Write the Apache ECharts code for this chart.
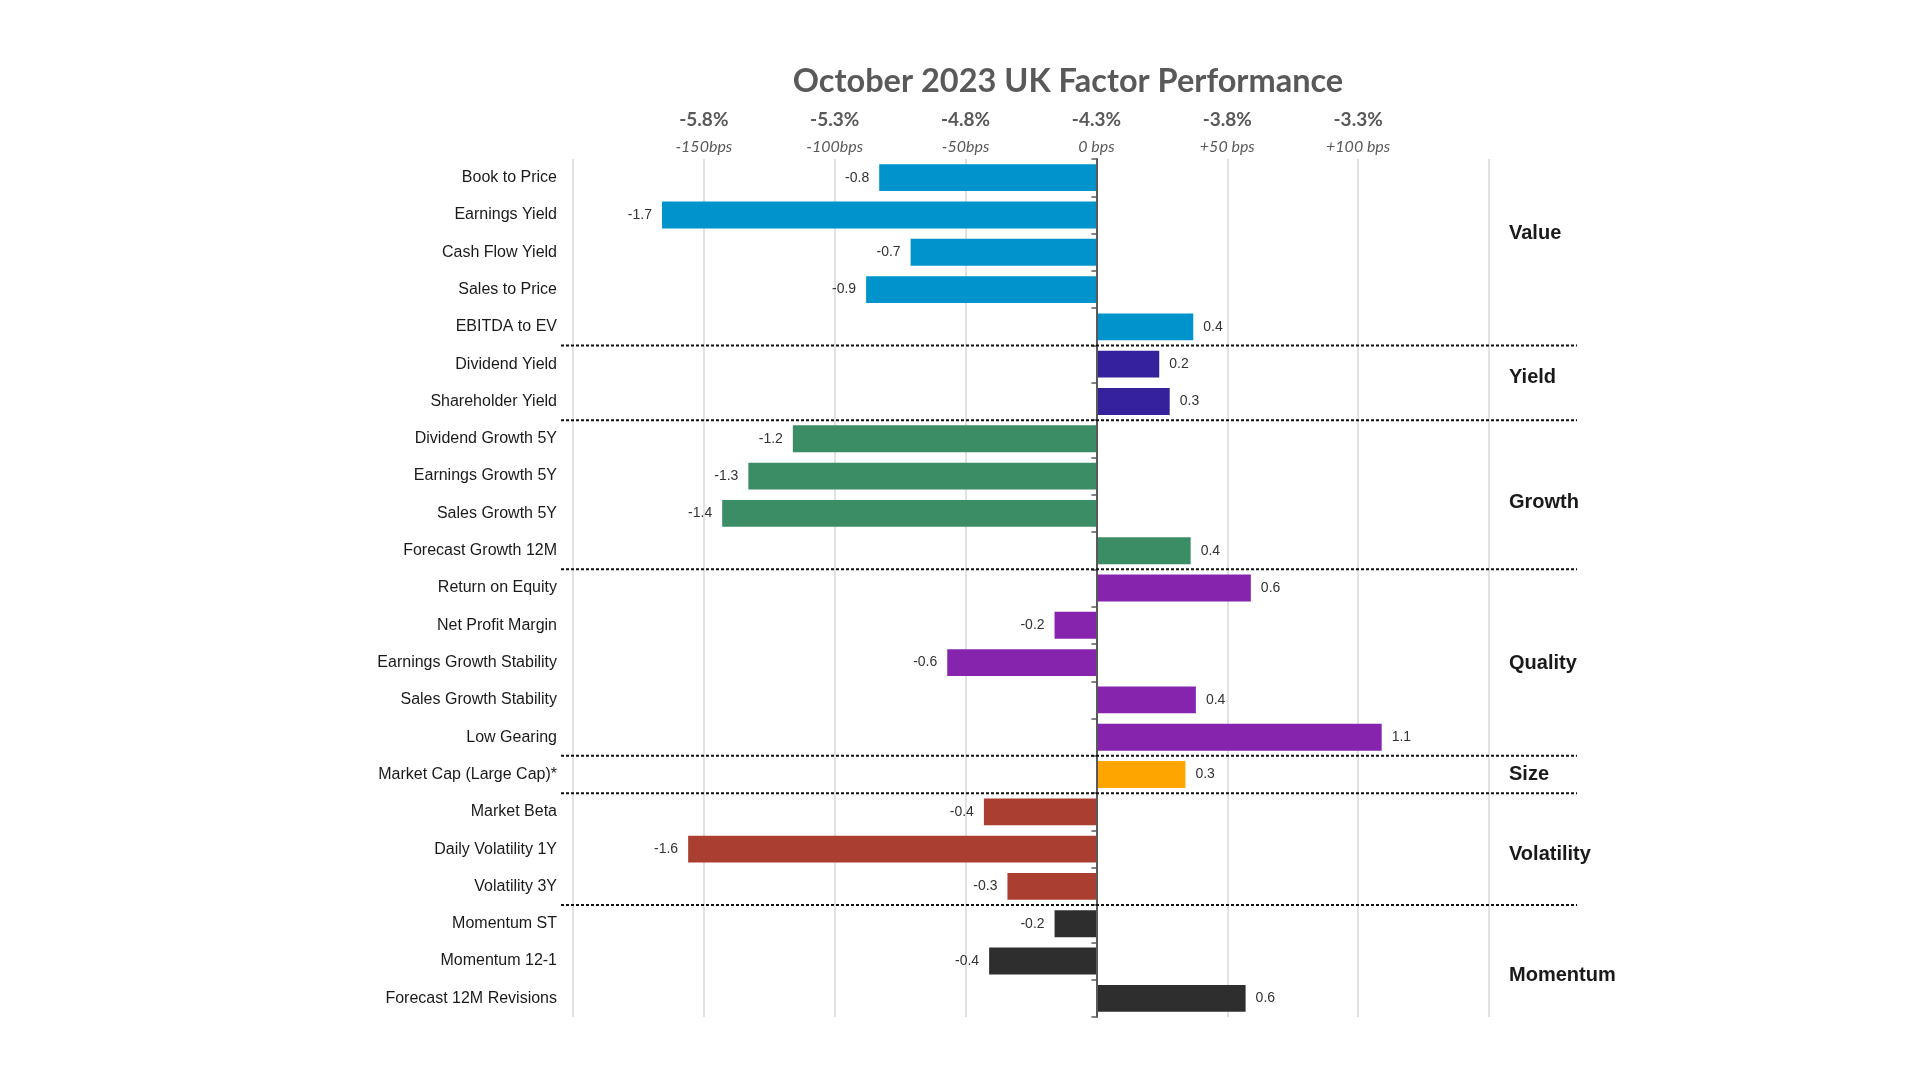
<!DOCTYPE html>
<html><head><meta charset="utf-8">
<script src="https://cdn.jsdelivr.net/npm/echarts@6/dist/echarts.min.js"></script>
<style>html,body{margin:0;padding:0;background:#fff}#c{width:1920px;height:1080px}</style>
</head><body><div id="c"></div>
<script>
// ---- data ----
const categories = ['Book to Price','Earnings Yield','Cash Flow Yield','Sales to Price','EBITDA to EV',
  'Dividend Yield','Shareholder Yield',
  'Dividend Growth 5Y','Earnings Growth 5Y','Sales Growth 5Y','Forecast Growth 12M',
  'Return on Equity','Net Profit Margin','Earnings Growth Stability','Sales Growth Stability','Low Gearing',
  'Market Cap (Large Cap)*',
  'Market Beta','Daily Volatility 1Y','Volatility 3Y',
  'Momentum ST','Momentum 12-1','Forecast 12M Revisions'];
const values = [-0.83,-1.66,-0.71,-0.88,0.37,
  0.24,0.28,
  -1.16,-1.33,-1.43,0.36,
  0.59,-0.16,-0.57,0.38,1.09,
  0.34,
  -0.43,-1.56,-0.34,
  -0.16,-0.41,0.57];
const groupNames  = ['Value','Yield','Growth','Quality','Size','Volatility','Momentum'];
const groupStarts = [0,5,7,11,16,17,20];
const groupEnds   = [4,6,10,15,16,19,22];
const groupColors = ['#0093CC','#34219B','#3A8D64','#8624AD','#FFA500','#A93E31','#2E2E2E'];
const tickValues = [-1.5,-1,-0.5,0,0.5,1];
const tickPct = ['-5.8%','-5.3%','-4.8%','-4.3%','-3.8%','-3.3%'];
const tickBps = ['-150bps','-100bps','-50bps','0 bps','+50 bps','+100 bps'];

// ---- layout (label row positions, in category units) ----
const groupLabelRow = [1.5,5.35,8.72,13.03,16.0,18.15,21.38];

function groupIndex(i){ for(let g=0; g<groupStarts.length; g++){ if(i>=groupStarts[g] && i<=groupEnds[g]) return g; } return 0; }

const barData = values.map((v,i)=>({
  value: v,
  itemStyle: {color: groupColors[groupIndex(i)]},
  label: {position: v < 0 ? 'left' : 'right'}
}));

const chart = echarts.init(document.getElementById('c'));
chart.setOption({
  animation: false,
  backgroundColor: '#fff',
  title: {
    text: 'October 2023 UK Factor Performance',
    left: 1063, top: 60, textAlign: 'center',
    textStyle: {fontFamily: 'Lato', fontWeight: 'bold', fontSize: 32.5, color: '#595959'}
  },
  grid: {left: 573, right: 431, top: 159, bottom: 63},
  xAxis: {
    type: 'value', position: 'top', min: -2, max: 1.5, interval: 0.5,
    axisLine: {show: false}, axisTick: {show: false},
    splitLine: {show: true, lineStyle: {color: '#d9d9d9', width: 1.5}},
    axisLabel: {
      margin: 1,
      formatter: function(v){
        const i = tickValues.findIndex(t => Math.abs(t - v) < 1e-9);
        if (i < 0) return '';
        return '{a|' + tickPct[i] + '}\n{b|' + tickBps[i] + '}';
      },
      rich: {
        a: {fontFamily: 'Lato', fontWeight: 'bold', fontSize: 19, color: '#595959', lineHeight: 32, align: 'center'},
        b: {fontFamily: 'Lato', fontStyle: 'italic', fontSize: 16, color: '#595959', lineHeight: 22, align: 'center'}
      }
    }
  },
  yAxis: [{
    type: 'category', data: categories, inverse: true, position: 'left',
    axisLine: {show: false, onZero: false}, axisTick: {show: false}, splitLine: {show: false},
    axisLabel: {margin: 16, fontFamily: 'Liberation Sans', fontSize: 16, color: '#1a1a1a'}
  }, {
    type: 'category', data: categories, inverse: true, position: 'left', z: 5,
    axisLine: {show: true, onZero: true, onZeroAxisIndex: 0, lineStyle: {color: '#595959', width: 2}},
    axisTick: {show: true, length: 5, lineStyle: {color: '#595959', width: 1.5}},
    axisLabel: {show: false}, splitLine: {show: false}
  }],
  series: [{
    type: 'bar', yAxisIndex: 0, data: barData,
    barCategoryGap: '28%',
    label: {
      show: true, distance: 10,
      fontFamily: 'Liberation Sans', fontSize: 14, color: '#333',
      formatter: p => values[p.dataIndex].toFixed(1)
    }
  }]
});

// separators and group labels, placed through the chart's own scales
const graphics = [];
const xLeft = chart.convertToPixel({xAxisIndex: 0}, -2) - 12;
const xRightEdge = chart.convertToPixel({xAxisIndex: 0}, 1.5);
for (let g = 0; g < groupNames.length; g++) {
  if (g < groupNames.length - 1) {
    const yA = chart.convertToPixel({yAxisIndex: 0}, groupEnds[g]);
    const yB = chart.convertToPixel({yAxisIndex: 0}, groupStarts[g + 1]);
    const y = (yA + yB) / 2;
    graphics.push({type: 'line', z: 10, shape: {x1: xLeft, y1: y, x2: xRightEdge + 88, y2: y},
      style: {stroke: '#111', lineWidth: 2, lineDash: [3, 2]}});
  }
  const r0 = Math.floor(groupLabelRow[g]);
  const y0 = chart.convertToPixel({yAxisIndex: 0}, r0);
  const y1 = chart.convertToPixel({yAxisIndex: 0}, r0 + 1);
  const yl = y0 + (y1 - y0) * (groupLabelRow[g] - r0);
  graphics.push({type: 'text', z: 10, x: xRightEdge + 20, y: yl,
    style: {text: groupNames[g], font: 'bold 20px "Liberation Sans"', fill: '#1a1a1a', textVerticalAlign: 'middle', verticalAlign: 'middle'}});
}
chart.setOption({graphic: graphics});
</script>
</body></html>
